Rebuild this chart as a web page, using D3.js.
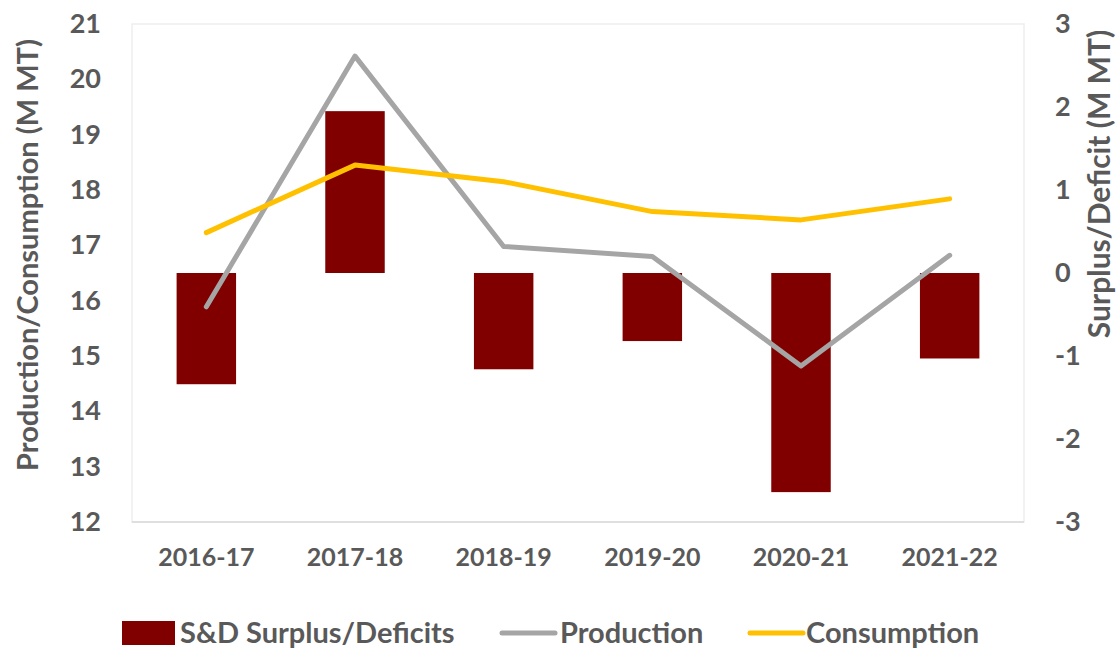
<!DOCTYPE html>
<html>
<head>
<meta charset="utf-8">
<script src="https://cdn.jsdelivr.net/npm/d3@7"></script>
<style>
  body { margin: 0; background: #fff; }
  text { font-family: Lato, "Open Sans", sans-serif; font-weight: bold; fill: #595959; }
</style>
</head>
<body>
<div id="chart"></div>
<script>
var seasons = ["2016-17", "2017-18", "2018-19", "2019-20", "2020-21", "2021-22"];
var production = [15.89, 20.42, 16.98, 16.80, 14.82, 16.82];
var consumption = [17.23, 18.45, 18.15, 17.61, 17.46, 17.84];
var surplus = [-1.34, 1.95, -1.16, -0.82, -2.64, -1.03];
var leftTicks = [12, 13, 14, 15, 16, 17, 18, 19, 20, 21];
var rightTicks = [-3, -2, -1, 0, 1, 2, 3];

var width = 1117;
var height = 650;
var margin = { top: 24, right: 93, bottom: 128, left: 132 };

var svg = d3.select("#chart").append("svg")
  .attr("width", width)
  .attr("height", height);

var x = d3.scaleBand()
  .domain(seasons)
  .range([margin.left, width - margin.right])
  .paddingInner(0.6)
  .paddingOuter(0.3);

var yLeft = d3.scaleLinear()
  .domain([12, 21])
  .range([height - margin.bottom, margin.top]);

var yRight = d3.scaleLinear()
  .domain([-3, 3])
  .range([height - margin.bottom, margin.top]);

// plot frame
svg.append("rect")
  .attr("x", margin.left)
  .attr("y", margin.top)
  .attr("width", width - margin.right - margin.left)
  .attr("height", height - margin.bottom - margin.top)
  .attr("fill", "none")
  .attr("stroke", "#EEEEEE")
  .attr("stroke-width", 1.5);

// bars
svg.append("g")
  .selectAll("rect")
  .data(surplus)
  .join("rect")
  .attr("x", (d, i) => x(seasons[i]))
  .attr("width", x.bandwidth())
  .attr("y", d => yRight(Math.max(0, d)))
  .attr("height", d => Math.abs(yRight(d) - yRight(0)))
  .attr("fill", "#800000");

// bottom axis line
svg.append("line")
  .attr("x1", margin.left)
  .attr("x2", width - margin.right)
  .attr("y1", height - margin.bottom)
  .attr("y2", height - margin.bottom)
  .attr("stroke", "#D9D9D9")
  .attr("stroke-width", 1.5);

var cx = (d, i) => x(seasons[i]) + x.bandwidth() / 2;

function drawLine(values, color) {
  svg.append("path")
    .datum(values)
    .attr("fill", "none")
    .attr("stroke", color)
    .attr("stroke-width", 5)
    .attr("stroke-linecap", "round")
    .attr("stroke-linejoin", "round")
    .attr("d", d3.line().x(cx).y(d => yLeft(d)));
}
drawLine(production, "#A5A5A5");
drawLine(consumption, "#FFC000");

// axes
var leftAxis = svg.append("g")
  .attr("transform", `translate(${margin.left}, 0)`)
  .call(d3.axisLeft(yLeft).tickValues(leftTicks).tickSize(0).tickPadding(31));
leftAxis.select(".domain").remove();
leftAxis.selectAll("text").style("font-size", "27px");

var rightAxis = svg.append("g")
  .attr("transform", `translate(${width - margin.right}, 0)`)
  .call(d3.axisRight(yRight).tickValues(rightTicks).tickSize(0).tickPadding(31)
    .tickFormat(d => String(d)));
rightAxis.select(".domain").remove();
rightAxis.selectAll("text").style("font-size", "27px");

var bottomAxis = svg.append("g")
  .attr("transform", `translate(0, ${height - margin.bottom})`)
  .call(d3.axisBottom(x).tickSize(0).tickPadding(26));
bottomAxis.select(".domain").remove();
bottomAxis.selectAll("text").style("font-size", "25px");

// axis titles
svg.append("text")
  .attr("transform", "translate(38, 255) rotate(-90)")
  .attr("text-anchor", "middle")
  .style("font-size", "29px")
  .text("Production/Consumption (M MT)");

svg.append("text")
  .attr("transform", "translate(1110, 184) rotate(-90)")
  .attr("text-anchor", "middle")
  .style("font-size", "30px")
  .text("Surplus/Deficit (M MT)");

// legend
var legendY = 633;
var legend = svg.append("g");
legend.append("rect")
  .attr("x", 122).attr("y", legendY - 12)
  .attr("width", 53).attr("height", 24)
  .attr("fill", "#800000");
legend.append("text")
  .attr("x", 180).attr("y", legendY).attr("dy", "0.35em")
  .style("font-size", "29px")
  .text("S&D Surplus/Deficits");

legend.append("line")
  .attr("x1", 502).attr("x2", 555)
  .attr("y1", legendY).attr("y2", legendY)
  .attr("stroke", "#A5A5A5").attr("stroke-width", 5).attr("stroke-linecap", "round");
legend.append("text")
  .attr("x", 560).attr("y", legendY).attr("dy", "0.35em")
  .style("font-size", "29px")
  .text("Production");

legend.append("line")
  .attr("x1", 750).attr("x2", 803)
  .attr("y1", legendY).attr("y2", legendY)
  .attr("stroke", "#FFC000").attr("stroke-width", 5).attr("stroke-linecap", "round");
legend.append("text")
  .attr("x", 806).attr("y", legendY).attr("dy", "0.35em")
  .style("font-size", "29px")
  .text("Consumption");
</script>
</body>
</html>
